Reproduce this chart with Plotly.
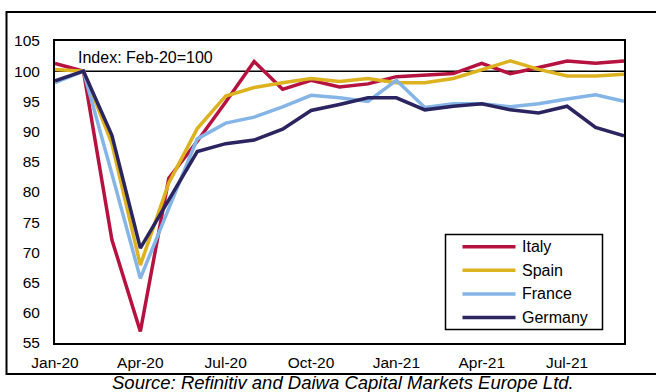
import plotly.graph_objects as go

# Monthly index values, Feb-20 = 100
months = ["Jan-20", "Feb-20", "Mar-20", "Apr-20", "May-20", "Jun-20", "Jul-20",
          "Aug-20", "Sep-20", "Oct-20", "Nov-20", "Dec-20", "Jan-21", "Feb-21",
          "Mar-21", "Apr-21", "May-21", "Jun-21", "Jul-21", "Aug-21", "Sep-21"]

italy = [101.3, 100.0, 72.1, 56.9, 82.3, 88.4, 94.9, 101.6, 97.0, 98.5, 97.4,
         97.9, 99.1, 99.3, 99.6, 101.3, 99.6, 100.6, 101.7, 101.3, 101.7]
spain = [100.3, 100.0, 88.0, 67.9, 81.5, 90.5, 95.9, 97.3, 98.1, 98.8, 98.3,
         98.8, 98.1, 98.1, 98.8, 100.2, 101.7, 100.3, 99.2, 99.2, 99.5]
france = [98.1, 100.0, 83.0, 65.7, 77.3, 88.8, 91.4, 92.4, 94.1, 96.0, 95.6,
          95.0, 98.5, 94.0, 94.6, 94.6, 94.1, 94.6, 95.4, 96.1, 95.0]
germany = [98.4, 100.0, 89.4, 70.7, 78.7, 86.7, 88.0, 88.6, 90.4, 93.5, 94.5,
           95.6, 95.6, 93.6, 94.2, 94.6, 93.6, 93.1, 94.2, 90.7, 89.3]

series_names = ["Italy", "Spain", "France", "Germany"]
series_values = [italy, spain, france, germany]
series_colors = ["#B5123F", "#DCB21E", "#84B5E6", "#2A2560"]

base_value = 100
y_ticks = list(range(55, 106, 5))
x_tick_labels = months[::3]

FONT = "Liberation Sans, Arial, sans-serif"

W, H = 656, 392
ML, MR, MT, MB = 55, 32, 41, 49
PW, PH = W - ML - MR, H - MT - MB


def px_x(px):
    return (px - ML) / PW


def px_y(py):
    return (H - MB - py) / PH


fig = go.Figure()
for name, vals, col in zip(series_names, series_values, series_colors):
    fig.add_trace(go.Scatter(x=months, y=vals, name=name, mode="lines",
                             line=dict(color=col, width=3.5),
                             showlegend=False))

shapes = []
# base-100 reference line
shapes.append(dict(type="line", xref="paper", yref="y", x0=0, x1=1,
                   y0=base_value, y1=base_value,
                   line=dict(color="black", width=1.5), layer="below"))
# outer chart frame
shapes.append(dict(type="rect", xref="paper", yref="paper",
                   x0=px_x(6.5), x1=px_x(W + 5), y0=px_y(374), y1=px_y(12),
                   line=dict(color="black", width=2), layer="below"))

annotations = [
    dict(text="Index: Feb-20=100", xref="paper", yref="paper",
         x=px_x(76), y=px_y(57), xanchor="left", yanchor="middle",
         showarrow=False, font=dict(family=FONT, size=16, color="black")),
    dict(text="<i>Source: Refinitiv and Daiwa Capital Markets Europe Ltd.</i>",
         xref="paper", yref="paper", x=px_x(343.5), y=px_y(382.5),
         xanchor="center", yanchor="middle", showarrow=False,
         font=dict(family=FONT, size=18.5, color="black")),
]

# legend box with line samples
shapes.append(dict(type="rect", xref="paper", yref="paper",
                   x0=px_x(445.5), x1=px_x(602.5), y0=px_y(329.5), y1=px_y(234.5),
                   line=dict(color="black", width=1.5), fillcolor="white",
                   layer="above"))
for i, (name, col) in enumerate(zip(series_names, series_colors)):
    yy = px_y(246.7 + i * 23.6)
    shapes.append(dict(type="line", xref="paper", yref="paper",
                       x0=px_x(462.5), x1=px_x(515.5), y0=yy, y1=yy,
                       line=dict(color=col, width=3.5), layer="above"))
    annotations.append(dict(text=name, xref="paper", yref="paper",
                            x=px_x(520), y=yy, xanchor="left", yanchor="middle",
                            showarrow=False,
                            font=dict(family=FONT, size=16, color="black")))

fig.update_layout(
    width=W, height=H,
    margin=dict(l=ML, r=MR, t=MT, b=MB),
    paper_bgcolor="white", plot_bgcolor="white",
    font=dict(family=FONT, size=15.5, color="black"),
    shapes=shapes, annotations=annotations,
    xaxis=dict(type="category", range=[0, len(months) - 1],
               tickmode="array", tickvals=x_tick_labels, ticktext=x_tick_labels,
               showgrid=False, zeroline=False,
               showline=True, linecolor="black", linewidth=2, mirror=True,
               ticks="outside", ticklen=4, tickcolor="rgba(0,0,0,0)",
               tickfont=dict(family=FONT, size=15.5, color="black")),
    yaxis=dict(range=[55, 105], tickmode="array", tickvals=y_ticks,
               showgrid=False, zeroline=False,
               showline=True, linecolor="black", linewidth=2, mirror=True,
               ticks="outside", ticklen=10, tickcolor="rgba(0,0,0,0)",
               tickfont=dict(family=FONT, size=15.5, color="black")),
)

fig.write_html("out.html")
